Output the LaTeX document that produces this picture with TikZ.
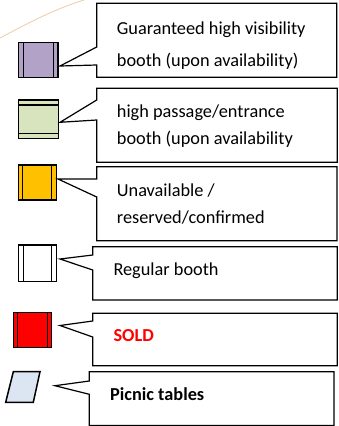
\documentclass[tikz,border=0pt]{standalone}
\usepackage{fontspec}
\setmainfont{Carlito}
\definecolor{cPurple}{HTML}{B3A2C7}
\definecolor{cGreen}{HTML}{D7E4BD}
\definecolor{cOrange}{HTML}{FFC000}
\definecolor{cRed}{HTML}{FF0000}
\definecolor{cBlue}{HTML}{DCE6F2}
\definecolor{cArc}{HTML}{EDCFAF}
\begin{document}
\begin{tikzpicture}[x=1pt,y=-1pt,
  calloutbox/.style={draw=black, line width=1.2pt, fill=white, line join=miter},
  booth/.style={draw=black, line width=1.5pt, line join=miter},
  innerline/.style={draw=black, line width=1.1pt},
  lbl/.style={anchor=base west, inner sep=0pt, font=\fontsize{18.3}{22}\selectfont, text=black}]
\useasboundingbox (0,0) rectangle (339,426);
% faint decorative arc
\draw[cArc, line width=0.9pt] (0,38) .. controls (30,22) and (55,9) .. (84,0);

% booths
\draw[booth, fill=cPurple] (18.5,42.3) rectangle (58,77.3);
\draw[innerline] (23.5,42.3) -- (23.5,77.3);
\draw[innerline] (53.3,42.3) -- (53.3,77.3);

\draw[booth, fill=cGreen] (18.3,100) rectangle (58.3,138.3);
\draw[innerline] (18.3,105) -- (58.3,105);
\draw[innerline] (18.3,133.3) -- (58.3,133.3);

\draw[booth, fill=cOrange] (18.3,165) rectangle (56.7,200);
\draw[innerline] (22.8,165) -- (22.8,200);
\draw[innerline] (51.7,165) -- (51.7,200);

\draw[booth, fill=white] (18.3,245) rectangle (56.7,281.7);
\draw[innerline] (23.3,245) -- (23.3,281.7);
\draw[innerline] (51.7,245) -- (51.7,281.7);

\draw[booth, fill=cRed] (13.3,312.3) rectangle (51.7,347.7);
\draw[innerline] (17.8,312.3) -- (17.8,347.7);
\draw[innerline] (47.6,312.3) -- (47.6,347.7);

\draw[booth, fill=cBlue]
  (13.3,371.7) -- (40,371.7) -- (33.3,402.3) -- (5.7,402.3) -- cycle;

% callouts
\coordinate (t1) at (60,66);
\draw[calloutbox] (96.7,3.3) -- (336.7,3.3) -- (336.7,77.3) -- (96.7,77.3) -- (96.7,65) -- (t1) -- (96.7,47) -- cycle;
\coordinate (t2) at (60,122.3);
\draw[calloutbox] (96.7,88.3) -- (337.3,88.3) -- (337.3,162.3) -- (96.7,162.3) -- (96.7,120) -- (t2) -- (96.7,100) -- cycle;
\coordinate (t3) at (58,179);
\draw[calloutbox] (96.7,166.7) -- (337,166.7) -- (337,240.7) -- (96.7,240.7) -- (96.7,197) -- (t3) -- (96.7,179) -- cycle;
\coordinate (t4) at (60,259);
\draw[calloutbox] (92.7,246.7) -- (337.3,246.7) -- (337.3,300) -- (92.7,300) -- (92.7,270) -- (t4) -- (92.7,255) -- cycle;
\coordinate (t5) at (60,325.5);
\draw[calloutbox] (92.7,313.3) -- (337.3,313.3) -- (337.3,365.7) -- (92.7,365.7) -- (92.7,337) -- (t5) -- (92.7,321) -- cycle;
\coordinate (t6) at (55,385.7);
\draw[calloutbox] (89.3,371.7) -- (334,371.7) -- (334,425.4) -- (89.3,425.4) -- (89.3,394.3) -- (t6) -- (89.3,381) -- cycle;

% labels
\node[lbl] (l1a) at (116.7,34) {Guaranteed high visibility};
\node[lbl] (l1b) at (116.7,66.7) {booth (upon availability)};
\node[lbl] (l2a) at (116.7,117.3) {high passage/entrance};
\node[lbl] (l2b) at (116.7,144) {booth (upon availability};
\node[lbl] (l3a) at (116.7,196.7) {Unavailable /};
\node[lbl] (l3b) at (116.7,223.4) {reserved/confirmed};
\node[lbl] (l4) at (113.3,275) {Regular booth};
\node[lbl, text=cRed, font=\fontsize{18.3}{22}\selectfont\bfseries] (l5) at (113.3,341) {SOLD};
\node[lbl, font=\fontsize{18.3}{22}\selectfont\bfseries] (l6) at (110,400) {Picnic tables};
\end{tikzpicture}
\end{document}
